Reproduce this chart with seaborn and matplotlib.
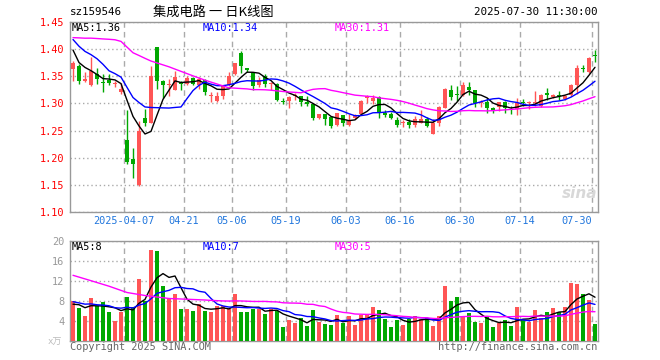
import numpy as np
import pandas as pd
import matplotlib
matplotlib.use("Agg")
import matplotlib.pyplot as plt
import seaborn as sns

# ---------------- data ----------------
title_code = "sz159546"
title_name = "集成电路 一 日K线图"
stamp = "2025-07-30 11:30:00"

open_ = [1.364, 1.369, 1.342, 1.333, 1.354, 1.340, 1.343, 1.335, 1.321, 1.232,
         1.197, 1.150, 1.273, 1.264, 1.403, 1.342, 1.333, 1.325, 1.340, 1.336,
         1.346, 1.334, 1.343, 1.313, 1.305, 1.314, 1.333, 1.354, 1.393, 1.365,
         1.355, 1.334, 1.351, 1.336, 1.336, 1.305, 1.305, 1.313, 1.313, 1.302,
         1.298, 1.273, 1.280, 1.275, 1.261, 1.278, 1.261, 1.273, 1.280, 1.310,
         1.305, 1.311, 1.283, 1.280, 1.269, 1.263, 1.265, 1.261, 1.264, 1.271,
         1.244, 1.263, 1.292, 1.325, 1.318, 1.316, 1.331, 1.324, 1.300, 1.302,
         1.292, 1.294, 1.303, 1.289, 1.290, 1.302, 1.300, 1.300, 1.296, 1.319,
         1.311, 1.3145, 1.308, 1.316, 1.334, 1.365, 1.357, 1.388]
high = [1.378, 1.372, 1.357, 1.385, 1.366, 1.354, 1.354, 1.342, 1.338, 1.287,
        1.217, 1.267, 1.290, 1.368, 1.404, 1.343, 1.344, 1.360, 1.341, 1.351,
        1.348, 1.348, 1.345, 1.321, 1.321, 1.334, 1.357, 1.375, 1.396, 1.366,
        1.358, 1.348, 1.354, 1.340, 1.337, 1.309, 1.314, 1.319, 1.313, 1.314,
        1.299, 1.281, 1.280, 1.275, 1.283, 1.278, 1.280, 1.280, 1.307, 1.316,
        1.316, 1.314, 1.287, 1.284, 1.275, 1.269, 1.272, 1.277, 1.288, 1.274,
        1.272, 1.295, 1.328, 1.333, 1.332, 1.340, 1.340, 1.325, 1.307, 1.310,
        1.293, 1.302, 1.305, 1.296, 1.310, 1.308, 1.305, 1.322, 1.318, 1.328,
        1.318, 1.322, 1.316, 1.336, 1.371, 1.371, 1.386, 1.398]
low = [1.342, 1.335, 1.339, 1.332, 1.336, 1.321, 1.333, 1.330, 1.317, 1.189,
       1.163, 1.147, 1.258, 1.263, 1.327, 1.310, 1.314, 1.324, 1.325, 1.333,
       1.333, 1.327, 1.316, 1.302, 1.302, 1.308, 1.332, 1.352, 1.355, 1.358,
       1.324, 1.330, 1.330, 1.325, 1.304, 1.298, 1.292, 1.307, 1.296, 1.295,
       1.269, 1.272, 1.260, 1.255, 1.259, 1.258, 1.259, 1.271, 1.278, 1.300,
       1.299, 1.273, 1.275, 1.271, 1.257, 1.257, 1.255, 1.257, 1.264, 1.257,
       1.243, 1.259, 1.291, 1.307, 1.304, 1.314, 1.316, 1.293, 1.293, 1.282,
       1.282, 1.286, 1.283, 1.280, 1.278, 1.296, 1.290, 1.296, 1.293, 1.307,
       1.310, 1.306, 1.307, 1.314, 1.318, 1.357, 1.356, 1.377]
close = [1.375, 1.341, 1.345, 1.360, 1.345, 1.337, 1.337, 1.337, 1.326, 1.192,
         1.188, 1.249, 1.263, 1.350, 1.342, 1.333, 1.334, 1.348, 1.335, 1.346,
         1.336, 1.345, 1.321, 1.314, 1.314, 1.333, 1.351, 1.374, 1.368, 1.361,
         1.332, 1.343, 1.336, 1.338, 1.307, 1.303, 1.311, 1.315, 1.302, 1.298,
         1.273, 1.280, 1.271, 1.258, 1.282, 1.263, 1.267, 1.278, 1.305, 1.313,
         1.310, 1.283, 1.279, 1.273, 1.261, 1.265, 1.261, 1.271, 1.272, 1.258,
         1.264, 1.293, 1.327, 1.311, 1.316, 1.334, 1.324, 1.300, 1.302, 1.291,
         1.286, 1.302, 1.291, 1.287, 1.300, 1.301, 1.302, 1.302, 1.316, 1.316,
         1.316, 1.3135, 1.314, 1.334, 1.365, 1.363, 1.383, 1.387]
volume = [8.0, 6.5, 5.0, 8.5, 6.9, 7.8, 5.7, 4.0, 5.7, 8.7,
          6.7, 12.3, 7.9, 18.1, 17.9, 10.9, 8.5, 9.3, 6.4, 6.4,
          6.0, 7.4, 6.0, 5.7, 6.9, 6.9, 6.3, 9.3, 5.7, 5.7,
          6.4, 6.4, 5.3, 6.4, 6.0, 2.7, 4.2, 3.5, 4.5, 3.0,
          6.1, 3.8, 3.3, 3.1, 5.1, 3.6, 5.0, 3.1, 5.2, 5.2,
          6.7, 6.1, 4.3, 2.8, 4.1, 3.1, 4.3, 5.0, 4.4, 4.5,
          2.9, 5.0, 11.0, 8.0, 8.8, 5.0, 5.5, 3.7, 3.5, 4.7,
          2.7, 3.5, 4.2, 2.9, 6.7, 4.2, 3.8, 6.2, 4.5, 5.7,
          6.5, 5.7, 6.7, 11.5, 11.3, 9.3, 8.1, 3.3]
prior_close = [1.355, 1.362, 1.358, 1.365, 1.360, 1.356, 1.364, 1.416, 1.507, 1.500,
               1.400, 1.420, 1.500, 1.447, 1.440, 1.440, 1.475, 1.460, 1.470, 1.460,
               1.465, 1.440, 1.420, 1.420, 1.440, 1.456, 1.390, 1.390, 1.380]
prior_volume = [17.3, 15.8, 19.3, 17.9, 18.8, 16.7, 16.6, 18.3, 21.3, 12.7,
                18.3, 13.9, 22.6, 22.4, 15.4, 13.0, 10.8, 7.9, 7.9, 7.5,
                8.9, 7.5, 8.0, 8.6, 8.5, 7.0, 8.0, 6.5, 7.0]

holidays = ["2025-04-04", "2025-05-01", "2025-05-02", "2025-05-05", "2025-06-02"]
tick_dates = ["2025-04-07", "2025-04-21", "2025-05-06", "2025-05-19", "2025-06-03",
              "2025-06-16", "2025-06-30", "2025-07-14", "2025-07-30"]
tick_labels = ["2025-04-07", "04-21", "05-06", "05-19", "06-03",
               "06-16", "06-30", "07-14", "07-30"]
price_ticks = [1.10, 1.15, 1.20, 1.25, 1.30, 1.35, 1.40, 1.45]
vol_ticks = [4, 8, 12, 16, 20]
price_legend = ["MA5:1.36", "MA10:1.34", "MA30:1.31"]
vol_legend = ["MA5:8", "MA10:7", "MA30:5"]
ma_windows = [5, 10, 30]

# ---------------- prep ----------------
days = pd.bdate_range("2025-03-24", "2025-07-30")
days = days[~days.isin(pd.to_datetime(holidays))]
dates = [d.strftime("%Y-%m-%d") for d in days]
n = len(close)
x = np.arange(n)
o = np.array(open_); c = np.array(close); h = np.array(high); l = np.array(low)
v = np.array(volume)
up = c >= o
RED, GREEN = "#FF5555", "#00A800"
colors = np.where(up, RED, GREEN)
ma_colors = ["#000000", "#0000FF", "#FF00FF"]

pc = pd.Series(prior_close + close)
pv = pd.Series(prior_volume + volume)
k = len(prior_close)
price_ma = [pc.rolling(w).mean().iloc[k:].to_numpy() for w in ma_windows]
vol_ma = [pv.rolling(w).mean().iloc[k:].to_numpy() for w in ma_windows]

tick_pos = [dates.index(d) - 0.5 for d in tick_dates]

# ---------------- figure ----------------
sns.set_style("white")
MONO = ["DejaVu Sans Mono"]
CJK = ["Noto Sans CJK SC", "DejaVu Sans"]
plt.rcParams["font.family"] = MONO

W, H = 660, 360
fig = plt.figure(figsize=(6.6, 3.6), dpi=100)
fig.patch.set_facecolor("white")


def fx(px):
    return px / W


def fy(py):
    return 1 - py / H


FS = 7.4
GRID = "#AAAAAA"
SPINE = "#999999"

ax = fig.add_axes([fx(70), fy(212), fx(528), 190.1 / H])
ax2 = fig.add_axes([fx(70), fy(340.7), fx(528), 100 / H])

for a in (ax, ax2):
    a.set_xlim(-0.5, n - 0.5)
    for s in a.spines.values():
        s.set_color(SPINE)
        s.set_linewidth(1.0)
    a.set_xticks(tick_pos)
    a.grid(axis="x", color=GRID, linestyle=(0, (4, 3)), linewidth=1.0)
    a.grid(axis="y", color=GRID, linestyle=(0, (1, 2)), linewidth=1.0)
    a.set_axisbelow(True)
    a.tick_params(length=0)

# price panel
ax.set_ylim(1.10, 1.45)
ax.set_yticks(price_ticks)
ax.set_yticklabels([f"{t:.2f}" for t in price_ticks], color="#FF0000", fontsize=FS)
ax.set_xticklabels(tick_labels, color="#2277DD", fontsize=FS)
ax.tick_params(axis="x", pad=3)
ax.tick_params(axis="y", pad=4)
ax.get_xticklabels()[-1].set_ha("right")

ax.vlines(x, l, h, colors=colors, linewidth=1.0, zorder=3)
ax.bar(x, np.maximum(np.abs(c - o), 0.0018), bottom=np.minimum(o, c), width=0.8,
       color=colors, linewidth=0, zorder=4)
for ma, col in zip(price_ma, ma_colors):
    sns.lineplot(x=x, y=ma, ax=ax, color=col, linewidth=1.0, legend=False, zorder=5)
ax.set_xlabel(""); ax.set_ylabel("")

# volume panel
ax2.set_ylim(0, 20)
ax2.set_yticks(vol_ticks)
ax2.set_yticklabels([str(t) for t in vol_ticks], color="#999999", fontsize=FS)
ax2.set_xticklabels([])
ax2.tick_params(axis="y", pad=4)
ax2.bar(x, v, width=0.8, color=colors, linewidth=0, zorder=3)
for ma, col in zip(vol_ma, ma_colors):
    sns.lineplot(x=x, y=ma, ax=ax2, color=col, linewidth=1.0, legend=False, zorder=5)
ax2.set_xlabel(""); ax2.set_ylabel("")

# header texts
fig.text(fx(70), fy(12), title_code, fontsize=FS + 0.4, ha="left", va="center", color="black")
fig.text(fx(213), fy(12), title_name, fontsize=9.5, ha="center", va="center",
         color="black", family=CJK)
fig.text(fx(597), fy(12), stamp, fontsize=FS + 0.4, ha="right", va="center", color="black")

# legends
for txt, px_, col in zip(price_legend, [72, 203, 335], ma_colors):
    fig.text(fx(px_), fy(28), txt, fontsize=FS, ha="left", va="center", color=col)
for txt, px_, col in zip(vol_legend, [72, 203, 335], ma_colors):
    fig.text(fx(px_), fy(247), txt, fontsize=FS, ha="left", va="center", color=col)

# footer
fig.text(fx(48), fy(342), "x万", fontsize=6.5, ha="left", va="center", color="#BBBBBB",
         family=["DejaVu Sans Mono", "Noto Sans CJK SC"])
fig.text(fx(70), fy(347), "Copyright 2025 SINA.COM", fontsize=FS, ha="left", va="center",
         color="#666666")
fig.text(fx(597), fy(347), "http://finance.sina.com.cn", fontsize=FS, ha="right",
         va="center", color="#666666")
fig.text(fx(580), fy(193), "sina", fontsize=11, ha="center", va="center", color="#D8D8D8",
         style="italic", weight="bold", family=["DejaVu Sans"])

fig.savefig("out.png", dpi=100, facecolor="white")
